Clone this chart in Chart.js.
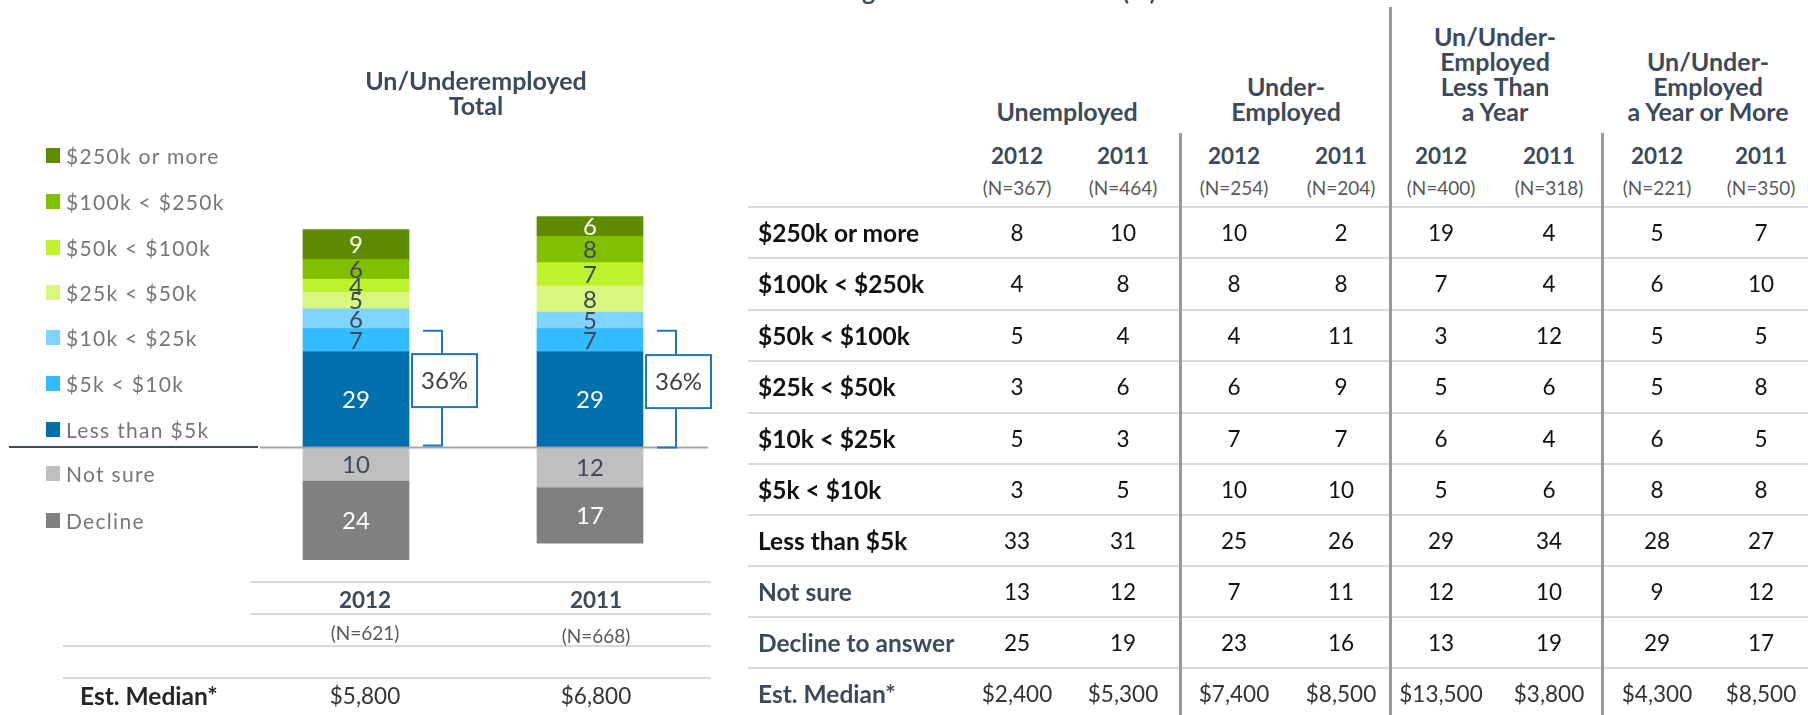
<!DOCTYPE html>
<html>
<head>
<meta charset="utf-8">
<script src="https://cdn.jsdelivr.net/npm/chart.js@4.4.0/dist/chart.umd.min.js"></script>
<style>
  body { margin: 0; background: #fff; width: 1808px; height: 715px; overflow: hidden; position: relative; font-family: Lato, "Open Sans", sans-serif; }
  .t { position: absolute; white-space: nowrap; transform: translate(-50%, -50%); line-height: 1; }
  .l { transform: translate(0, -50%); }
  .hl { position: absolute; height: 2px; background: #d9d9d9; }
  .vl { position: absolute; width: 3px; background: #9a9a9a; }
  #wrap { position: absolute; left: 0; top: 0; width: 760px; height: 715px; }
  .sq { position: absolute; width: 14px; height: 15px; }
</style>
</head>
<body>
<div id="wrap"><canvas id="bars" width="760" height="715"></canvas></div>
<script>
// ---- left chart data (Un/Underemployed total) ----
const years = ['2012', '2011'];
const yearN = ['(N=621)', '(N=668)'];
const yearMedian = ['$5,800', '$6,800'];

const under5k = [29, 29];
const k5to10 = [7, 7];
const k10to25 = [6, 5];
const k25to50 = [5, 8];
const k50to100 = [4, 7];
const k100to250 = [6, 8];
const over250k = [9, 6];
const notSure = [10, 12];
const declined = [24, 17];

const legendNames = ['$250k or more', '$100k < $250k', '$50k < $100k', '$25k < $50k', '$10k < $25k',
  '$5k < $10k', 'Less than $5k', 'Not sure', 'Decline'];

// ---- right table data ----
const groupTitles = [['Unemployed'], ['Under-', 'Employed'], ['Un/Under-', 'Employed', 'Less Than', 'a Year'],
  ['Un/Under-', 'Employed', 'a Year or More']];
const colYears = ['2012', '2011', '2012', '2011', '2012', '2011', '2012', '2011'];
const colN = ['(N=367)', '(N=464)', '(N=254)', '(N=204)', '(N=400)', '(N=318)', '(N=221)', '(N=350)'];
const rowLabels = ['$250k or more', '$100k < $250k', '$50k < $100k', '$25k < $50k', '$10k < $25k',
  '$5k < $10k', 'Less than $5k', 'Not sure', 'Decline to answer', 'Est. Median*'];
const rowOver250k = [8, 10, 10, 2, 19, 4, 5, 7];
const row100to250 = [4, 8, 8, 8, 7, 4, 6, 10];
const row50to100 = [5, 4, 4, 11, 3, 12, 5, 5];
const row25to50 = [3, 6, 6, 9, 5, 6, 5, 8];
const row10to25 = [5, 3, 7, 7, 6, 4, 6, 5];
const row5to10 = [3, 5, 10, 10, 5, 6, 8, 8];
const rowUnder5k = [33, 31, 25, 26, 29, 34, 28, 27];
const rowNotSure = [13, 12, 7, 11, 12, 10, 9, 12];
const rowDecline = [25, 19, 23, 16, 13, 19, 29, 17];
const rowMedian = ['$2,400', '$5,300', '$7,400', '$8,500', '$13,500', '$3,800', '$4,300', '$8,500'];

const SLATE = '#3d4a5a';

function put(text, x, y, style, left) {
  const d = document.createElement('div');
  d.className = left ? 't l' : 't';
  d.textContent = text;
  d.style.left = x + 'px';
  d.style.top = y + 'px';
  Object.assign(d.style, style);
  document.body.appendChild(d);
  return d;
}
function line(cls, x, y, w, h) {
  const d = document.createElement('div');
  d.className = cls;
  d.style.left = x + 'px';
  d.style.top = y + 'px';
  if (w != null) d.style.width = w + 'px';
  if (h != null) d.style.height = h + 'px';
  document.body.appendChild(d);
}

// cut-off slide title at the very top (only descenders show)
const titleText = 'Personal Earnings Last Calendar Year (%)';
const mctx = document.createElement('canvas').getContext('2d');
mctx.font = 'bold 25px Lato';
const titleLeft = 857 - mctx.measureText('Personal Earnin').width;
const ttl = document.createElement('div');
ttl.textContent = titleText;
Object.assign(ttl.style, { position: 'absolute', left: titleLeft + 'px', top: '-22px', lineHeight: '25px', fontSize: '25px',
  fontWeight: 'bold', color: SLATE, whiteSpace: 'nowrap', wordSpacing: '5px' });
document.body.appendChild(ttl);

// left title
put('Un/Underemployed', 476, 80, { fontSize: '25px', fontWeight: 'bold', color: SLATE });
put('Total', 476, 105, { fontSize: '25px', fontWeight: 'bold', color: SLATE });

// legend
const legendColors = ['#5f8b00', '#80c000', '#bdf22d', '#d9f77f', '#7fd3ff', '#33bbff', '#0070ad', '#bfbfbf', '#808080'];
const legendY = [155, 201, 247, 292, 337, 383, 429, 473, 520];
legendNames.forEach((name, i) => {
  const s = document.createElement('div');
  s.className = 'sq';
  s.style.left = '46px';
  s.style.top = (legendY[i] - 7) + 'px';
  s.style.background = legendColors[i];
  document.body.appendChild(s);
  put(name, 66, legendY[i], { fontSize: '21px', color: '#767676', letterSpacing: '1.3px' }, true);
});
const dl = document.createElement('div');
Object.assign(dl.style, { position: 'absolute', left: '9px', top: '446px', width: '249px', height: '2px', background: '#404a58' });
document.body.appendChild(dl);

// left table under the bars
line('hl', 250, 581, 461);
line('hl', 250, 613, 461);
line('hl', 63, 645, 648);
line('hl', 63, 677, 648);
const leftX = [365, 596];
years.forEach((yr, i) => {
  put(yr, leftX[i], 600, { fontSize: '22.5px', fontWeight: 'bold', color: SLATE });
  put(yearN[i], leftX[i], 632 + i * 3, { fontSize: '19px', color: '#595959' });
  put(yearMedian[i], leftX[i], 696, { fontSize: '22.5px', color: '#333' });
});
put('Est. Median*', 80, 696, { fontSize: '24.5px', fontWeight: 'bold', color: '#262626' }, true);

// right table
const colX = [1017, 1123, 1234, 1341, 1441, 1549, 1657, 1761];
const groupX = [1067, 1286, 1495, 1708];
groupTitles.forEach((lines, g) => {
  lines.forEach((txt, k) => {
    const y = 111 - (lines.length - 1 - k) * 25;
    put(txt, groupX[g], y, { fontSize: '25px', fontWeight: 'bold', color: SLATE });
  });
});
colYears.forEach((yr, c) => {
  put(yr, colX[c], 156, { fontSize: '22.5px', fontWeight: 'bold', color: SLATE });
  put(colN[c], colX[c], 187, { fontSize: '19px', color: '#595959' });
});
const rowY = [207, 258, 310, 361, 413, 464, 515, 566, 617, 668];
rowY.forEach(y => line('hl', 748, y - 1, 1060));
const tableRows = [rowOver250k, row100to250, row50to100, row25to50, row10to25, row5to10, rowUnder5k, rowNotSure, rowDecline, rowMedian];
tableRows.forEach((vals, r) => {
  const cy = rowY[r] + 26;
  const dark = r >= 7 ? SLATE : '#111';
  put(rowLabels[r], 758, cy, { fontSize: '24.5px', fontWeight: 'bold', color: dark }, true);
  vals.forEach((v, c) => put(String(v), colX[c], cy, { fontSize: '22.5px', color: r === 9 ? '#333' : '#111' }));
});
line('vl', 1179, 133, null, 582);
line('vl', 1389, 7, null, 708);
line('vl', 1601, 133, null, 582);

// ---- bars ----
const barDecor = {
  id: 'barDecor',
  afterDatasetsDraw(chart) {
    const { ctx, chartArea, scales: { y } } = chart;
    const zeroY = y.getPixelForValue(0);
    ctx.save();
    ctx.strokeStyle = '#a6a6a6';
    ctx.lineWidth = 2;
    ctx.beginPath();
    ctx.moveTo(chartArea.left + 21, zeroY);
    ctx.lineTo(chartArea.right + 1, zeroY);
    ctx.stroke();

    ctx.textAlign = 'center';
    ctx.textBaseline = 'middle';
    ctx.font = '24px Lato';
    chart.data.datasets.forEach((ds, di) => {
      chart.getDatasetMeta(di).data.forEach((bar, i) => {
        ctx.fillStyle = ds.labelColor;
        ctx.fillText(String(Math.abs(ds.data[i])), bar.x, (bar.y + bar.base) / 2 + 1);
      });
    });

    // bracket + box for the two lowest income groups
    const meta = chart.getDatasetMeta(0);
    meta.data.forEach((bar, i) => {
      const right = bar.x + bar.width / 2;
      const topY = y.getPixelForValue(under5k[i] + k5to10[i]) + 2;
      const botY = zeroY - 2 + i * 2;
      const bx = right + 33;
      ctx.strokeStyle = '#1f78b4';
      ctx.lineWidth = 2;
      ctx.beginPath();
      ctx.moveTo(right + 14, topY);
      ctx.lineTo(bx, topY);
      ctx.lineTo(bx, botY);
      ctx.lineTo(right + 14, botY);
      ctx.stroke();
      const cy = (topY + botY) / 2 - 8;
      ctx.fillStyle = '#fff';
      ctx.fillRect(right + 3, cy - 26, 65, 53);
      ctx.strokeRect(right + 3, cy - 26, 65, 53);
      ctx.fillStyle = '#404040';
      ctx.font = '24px Lato';
      ctx.fillText((under5k[i] + k5to10[i]) + '%', right + 35.5, cy + 1);
    });
    ctx.restore();
  }
};

const WHITE = '#ffffff', DARK = '#404858';
new Chart(document.getElementById('bars'), {
  type: 'bar',
  data: {
    labels: years,
    datasets: [
      { label: 'Less than $5k', data: under5k, backgroundColor: '#0070ad', labelColor: WHITE },
      { label: '$5k < $10k', data: k5to10, backgroundColor: '#33bbff', labelColor: DARK },
      { label: '$10k < $25k', data: k10to25, backgroundColor: '#7fd3ff', labelColor: DARK },
      { label: '$25k < $50k', data: k25to50, backgroundColor: '#d9f77f', labelColor: DARK },
      { label: '$50k < $100k', data: k50to100, backgroundColor: '#bdf22d', labelColor: DARK },
      { label: '$100k < $250k', data: k100to250, backgroundColor: '#80c000', labelColor: DARK },
      { label: '$250k or more', data: over250k, backgroundColor: '#5f8b00', labelColor: WHITE },
      { label: 'Not sure', data: notSure.map(v => -v), backgroundColor: '#bfbfbf', labelColor: DARK },
      { label: 'Decline', data: declined.map(v => -v), backgroundColor: '#808080', labelColor: WHITE }
    ]
  },
  options: {
    responsive: false,
    animation: false,
    devicePixelRatio: 1,
    layout: { padding: { left: 239, right: 53, top: 200, bottom: 152 } },
    datasets: { bar: { barThickness: 106, borderWidth: 0 } },
    scales: {
      x: { display: false, stacked: true },
      y: { display: false, stacked: true, min: -35, max: 75 }
    },
    plugins: { legend: { display: false }, tooltip: { enabled: false } }
  },
  plugins: [barDecor]
});
</script>
</body>
</html>
